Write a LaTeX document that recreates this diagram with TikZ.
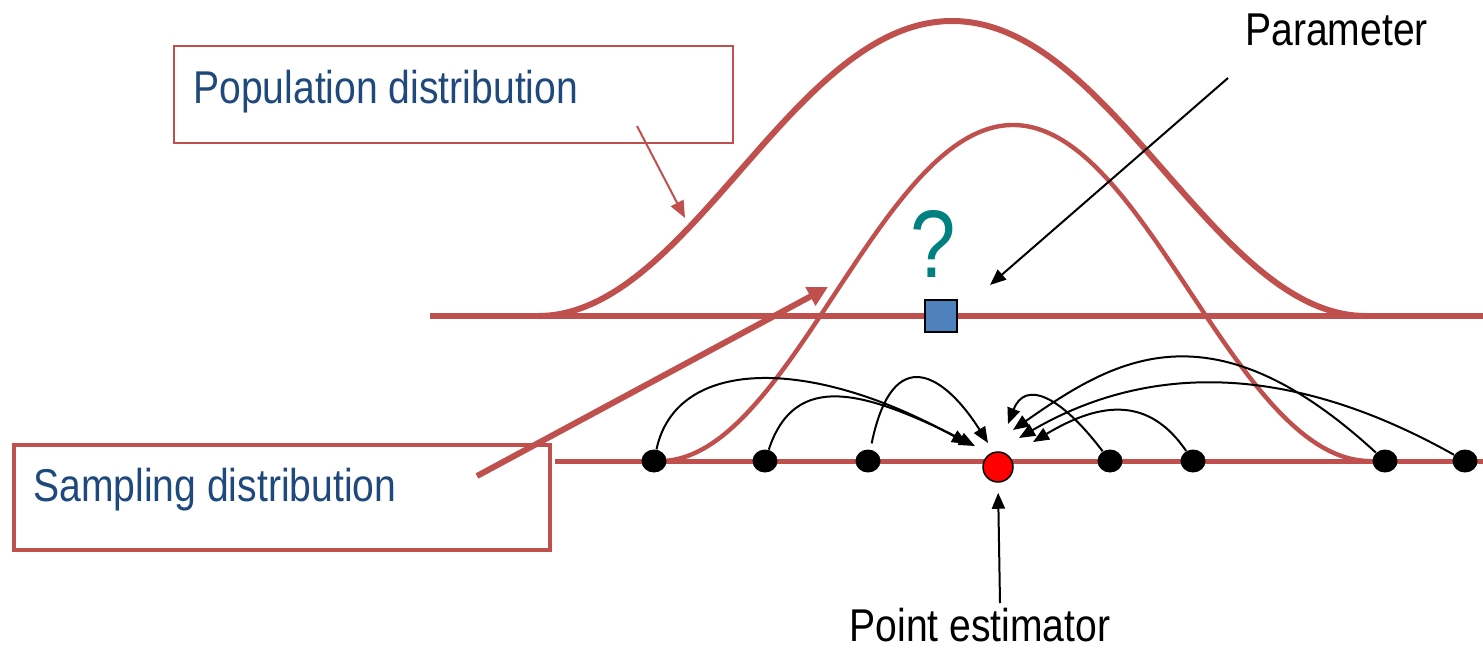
\documentclass[tikz,border=0pt]{standalone}
\usepackage{fontspec}
\usepackage{tikz}
\usetikzlibrary{arrows.meta,shapes.geometric}
\newfontfamily\slidefont[FakeStretch=0.85]{Liberation Sans}
\definecolor{smred}{RGB}{192,80,77}
\definecolor{smnavy}{RGB}{31,73,125}
\definecolor{smblue}{RGB}{79,129,189}
\definecolor{smteal}{RGB}{0,128,128}

\begin{document}
\begin{tikzpicture}[x=0.5pt, y=-0.5pt,
  every node/.style={font=\slidefont\fontsize{23}{27}\selectfont, inner sep=0pt},
  frame/.style={draw=smred, anchor=north west},
  lbl/.style={anchor=base west},
  axis/.style={draw=smred, line width=3pt},
  bell/.style={draw=smred, line width=3pt},
  sbell/.style={draw=smred, line width=2.2pt},
  sdot/.style={ellipse, fill=black, minimum width=12.5pt, minimum height=11.5pt},
  pointer/.style={-{Triangle[length=8pt, width=6.5pt]}, line width=1pt},
  redpointer/.style={-{Triangle[length=8.5pt, width=7pt]}, draw=smred, fill=smred, line width=1pt}
]
  \useasboundingbox (0,0) rectangle (1483,648);

  % text boxes
  \node[frame, line width=1pt, minimum width=279.5pt, minimum height=48.5pt] (popbox) at (173,45) {};
  \node[lbl, text=smnavy] (poptext) at (193,103) {Population distribution};
  \node[frame, line width=2.2pt, minimum width=268pt, minimum height=52.5pt] (sampbox) at (12,443) {};
  \node[lbl, text=smnavy] (samptext) at (33,501) {Sampling distribution};

  % the two axes and bells
  \draw[axis] (430,316) -- (1483,316);
  \draw[axis, line width=2.5pt] (555,461) -- (1483,461);
  \coordinate (popL) at (538,316);
  \coordinate (popT) at (952,21);
  \coordinate (popR) at (1366,316);
  \draw[bell] (popL) .. controls +(152,0) and +(-160,0) .. (popT)
    .. controls +(160,0) and +(-152,0) .. (popR);
  \coordinate (smpL) at (660,461);
  \coordinate (smpT) at (1013,125);
  \coordinate (smpR) at (1370,461);
  \draw[sbell] (smpL) .. controls +(130,0) and +(-133,0) .. (smpT)
    .. controls +(133,0) and +(-135,0) .. (smpR);

  % parameter and estimator
  \node[draw=black, fill=smblue, line width=1pt, minimum size=16pt] (param) at (941,316) {};
  \node[font=\slidefont\fontsize{48}{50}\selectfont, text=smteal, anchor=base] (qm) at (933,277) {?};
  \node[circle, draw=black, fill=red, line width=0.75pt, minimum size=15pt] (est) at (998,467) {};

  % sample points
  \node[sdot] (s1) at (654,461) {};
  \node[sdot] (s2) at (765,461) {};
  \node[sdot] (s3) at (868,461) {};
  \node[sdot] (s4) at (1110,461) {};
  \node[sdot] (s5) at (1193,461) {};
  \node[sdot] (s6) at (1385,461) {};
  \node[sdot] (s7) at (1465,461) {};

  % labels
  \node[lbl] (par) at (1245,45) {Parameter};
  \node[lbl, anchor=base] (pe) at (980,641) {Point estimator};

  % arrow ends
  \coordinate (t1) at (968,444);
  \coordinate (t2) at (975,446);
  \coordinate (t3) at (988,443);
  \coordinate (t4) at (1008,424);
  \coordinate (t5) at (1033,442);
  \coordinate (t6) at (1013,430);
  \coordinate (t7) at (1019,438);

  \draw[pointer] (s1) .. controls (676,358) and (808,355) .. (t1);
  \draw[pointer] (s2) .. controls (795,370) and (865,391) .. (t2);
  \draw[pointer, shorten <=3pt] (s3) .. controls (893,340) and (945,375) .. (t3);
  \draw[pointer] (s4) .. controls (1060,395) and (1025,380) .. (t4);
  \draw[pointer] (s5) .. controls (1150,398) and (1103,400) .. (t5);
  \draw[pointer] (s6) .. controls (1210,300) and (1113,360) .. (t6);
  \draw[pointer] (s7) .. controls (1250,340) and (1110,385) .. (t7);

  % callouts
  \coordinate (parfrom) at (1228,78);
  \coordinate (parto) at (990,285);
  \draw[pointer] (parfrom) -- (parto);
  \coordinate (pefrom) at (1000,603);
  \draw[pointer, shorten >=5pt] (pefrom) -- (est.south);
  \coordinate (popfrom) at (637,126);
  \coordinate (popto) at (685,218);
  \draw[redpointer] (popfrom) -- (popto);
  \coordinate (sampfrom) at (477,476);
  \coordinate (sampto) at (828,287);
  \draw[redpointer, line width=3pt, -{Triangle[length=10pt, width=10pt]}] (sampfrom) -- (sampto);
\end{tikzpicture}
\end{document}
